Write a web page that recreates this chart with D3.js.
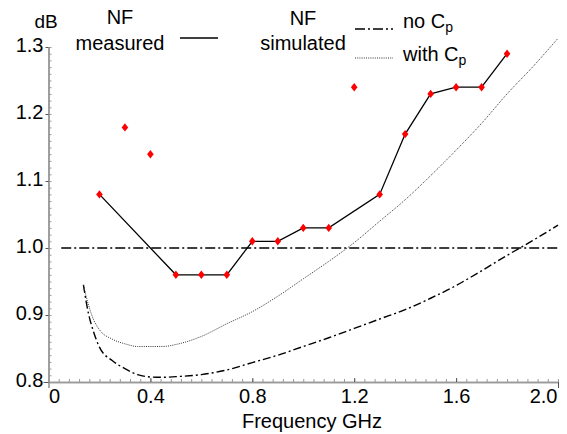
<!DOCTYPE html>
<html>
<head>
<meta charset="UTF-8">
<title>NF vs frequency</title>
<script src="https://d3js.org/d3.v7.min.js"></script>
<style>
  body { margin: 0; background: #fff; }
  svg text { font-family: "Liberation Sans", Arial, sans-serif; fill: #000; }
</style>
</head>
<body>
<script>
// measured NF (red diamonds); some points are not on the drawn line
const measFreq = [0.2, 0.3, 0.4, 0.5, 0.6, 0.7, 0.8, 0.9, 1.0, 1.1, 1.2, 1.3, 1.4, 1.5, 1.6, 1.7, 1.8];
const measNF   = [1.08, 1.18, 1.14, 0.96, 0.96, 0.96, 1.01, 1.01, 1.03, 1.03, 1.24, 1.08, 1.17, 1.23, 1.24, 1.24, 1.29];
const offLine  = [0.3, 0.4, 1.2];

// simulated, no Cp (dash-dot)
const noCpFreq = [0.137, 0.157, 0.176, 0.2, 0.25, 0.3, 0.35, 0.4, 0.45, 0.5, 0.6, 0.7, 0.8, 0.9, 1.0, 1.1, 1.2, 1.3, 1.4, 1.5, 1.6, 1.7, 1.8, 1.9, 2.0];
const noCpNF   = [0.945, 0.902, 0.876, 0.852, 0.832, 0.82, 0.811, 0.8075, 0.807, 0.808, 0.811, 0.818, 0.829, 0.84, 0.853, 0.866, 0.88, 0.894, 0.908, 0.925, 0.944, 0.966, 0.989, 1.011, 1.034];

// simulated, with Cp (dotted)
const withCpFreq = [0.137, 0.157, 0.176, 0.2, 0.25, 0.3, 0.35, 0.4, 0.45, 0.5, 0.6, 0.7, 0.8, 0.9, 1.0, 1.1, 1.2, 1.3, 1.4, 1.5, 1.6, 1.7, 1.8, 1.9, 2.0];
const withCpNF   = [0.945, 0.915, 0.894, 0.878, 0.864, 0.857, 0.853, 0.853, 0.853, 0.856, 0.868, 0.887, 0.905, 0.928, 0.954, 0.98, 1.008, 1.04, 1.072, 1.108, 1.146, 1.186, 1.23, 1.27, 1.313];

// 1 dB reference line
const refFreq = [0.05, 2.0];
const refNF = [1.0, 1.0];

const xTicks = [0, 0.4, 0.8, 1.2, 1.6, 2.0];
const yTicks = [0.8, 0.9, 1.0, 1.1, 1.2, 1.3];

const W = 567, H = 434;
const x = d3.scaleLinear().domain([0, 2]).range([48.5, 558]);
const y = d3.scaleLinear().domain([0.8, 1.3]).range([382, 47]);

const svg = d3.select("body").append("svg").attr("width", W).attr("height", H);

// axes: minor ticks first
const gx = svg.append("g").attr("transform", `translate(0,${y(0.8)})`);
gx.call(d3.axisBottom(x).tickValues(d3.range(0, 2.001, 0.04)).tickSize(-3).tickSizeOuter(0).tickFormat(""));
const gxM = svg.append("g").attr("transform", `translate(0,${y(0.8)})`);
gxM.call(d3.axisBottom(x).tickValues(xTicks).tickSize(-4).tickSizeOuter(0).tickFormat(d3.format(".1f")));

const gy = svg.append("g").attr("transform", `translate(${x(0)},0)`);
gy.call(d3.axisLeft(y).tickValues(d3.range(0.8, 1.3001, 0.01)).tickSize(-3).tickSizeOuter(0).tickFormat(""));
const gyM = svg.append("g").attr("transform", `translate(${x(0)},0)`);
gyM.call(d3.axisLeft(y).tickValues(yTicks).tickSize(3).tickSizeOuter(0).tickFormat(d3.format(".1f")));

[gx, gy, gxM, gyM].forEach(g => {
  g.select(".domain").attr("stroke", "#999").attr("stroke-width", 1.5);
  g.selectAll(".tick line").attr("stroke", "#999").attr("stroke-width", 1);
});
gxM.selectAll(".tick line").attr("stroke", "#555");
gyM.selectAll(".tick line").attr("stroke", "#555");
gxM.selectAll(".tick line").filter(d => d === 0 || d === 2).attr("y2", 6);
gxM.selectAll(".tick line").filter(d => d === 0).attr("y1", 0);
gxM.selectAll(".tick text").text(d => d === 0 ? "0" : d3.format(".1f")(d))
  .attr("y", 21).attr("dy", null).attr("font-size", 20)
  .attr("text-anchor", d => d === 0 ? "start" : d === 2 ? "end" : "middle")
  .attr("x", d => d === 2 ? -1 : 0);
gyM.selectAll(".tick text").attr("x", -5).attr("dy", "0.2em").attr("font-size", 20);
gyM.selectAll(".tick line").filter(d => Math.abs(d - 0.8) < 1e-9).attr("x2", -5);

svg.append("text").attr("x", 312).attr("y", 428).attr("text-anchor", "middle")
  .attr("font-size", 20).text("Frequency GHz");
svg.append("text").attr("x", 46).attr("y", 28).attr("text-anchor", "middle")
  .attr("font-size", 19).text("dB");

// lines
const line = d3.line().x(d => x(d[0])).y(d => y(d[1]));
const smooth = d3.line().x(d => x(d[0])).y(d => y(d[1])).curve(d3.curveMonotoneX);

svg.append("path").datum(d3.zip(refFreq, refNF)).attr("d", line)
  .attr("fill", "none").attr("stroke", "#000").attr("stroke-width", 1.4)
  .attr("stroke-dasharray", "10,3,2,3");

svg.append("path").datum(d3.zip(noCpFreq, noCpNF)).attr("d", smooth)
  .attr("fill", "none").attr("stroke", "#000").attr("stroke-width", 1.4)
  .attr("stroke-dasharray", "8,3,2,3");

svg.append("path").datum(d3.zip(withCpFreq, withCpNF)).attr("d", smooth)
  .attr("fill", "none").attr("stroke", "#333").attr("stroke-width", 1)
  .attr("stroke-dasharray", "1,1.2");

const meas = d3.zip(measFreq, measNF);
svg.append("path").datum(meas.filter(d => !offLine.includes(d[0]))).attr("d", line)
  .attr("fill", "none").attr("stroke", "#000").attr("stroke-width", 1.3);

svg.append("g").selectAll("path").data(meas).join("path")
  .attr("transform", d => `translate(${x(d[0])},${y(d[1])})`)
  .attr("d", "M0,-4.2L3.3,0L0,4.2L-3.3,0Z")
  .attr("fill", "#f00");

// legend
const leg = svg.append("g").attr("font-size", 20);
leg.append("text").attr("x", 120).attr("y", 24).attr("text-anchor", "middle").text("NF");
leg.append("text").attr("x", 120).attr("y", 50).attr("text-anchor", "middle").text("measured");
leg.append("line").attr("x1", 180).attr("x2", 218).attr("y1", 38).attr("y2", 38)
  .attr("stroke", "#000").attr("stroke-width", 1.3);
leg.append("text").attr("x", 303).attr("y", 25).attr("text-anchor", "middle").text("NF");
leg.append("text").attr("x", 303).attr("y", 50).attr("text-anchor", "middle").text("simulated");
leg.append("line").attr("x1", 355).attr("x2", 393).attr("y1", 29).attr("y2", 29)
  .attr("stroke", "#000").attr("stroke-width", 1.4).attr("stroke-dasharray", "10,3,2,3");
leg.append("line").attr("x1", 355).attr("x2", 393).attr("y1", 58).attr("y2", 58)
  .attr("stroke", "#333").attr("stroke-width", 1).attr("stroke-dasharray", "1,1.2");
const t1 = leg.append("text").attr("x", 403).attr("y", 28);
t1.append("tspan").text("no C");
t1.append("tspan").attr("font-size", 14).attr("dy", 4).text("p");
const t2 = leg.append("text").attr("x", 403).attr("y", 61);
t2.append("tspan").text("with C");
t2.append("tspan").attr("font-size", 14).attr("dy", 4).text("p");
</script>
</body>
</html>
